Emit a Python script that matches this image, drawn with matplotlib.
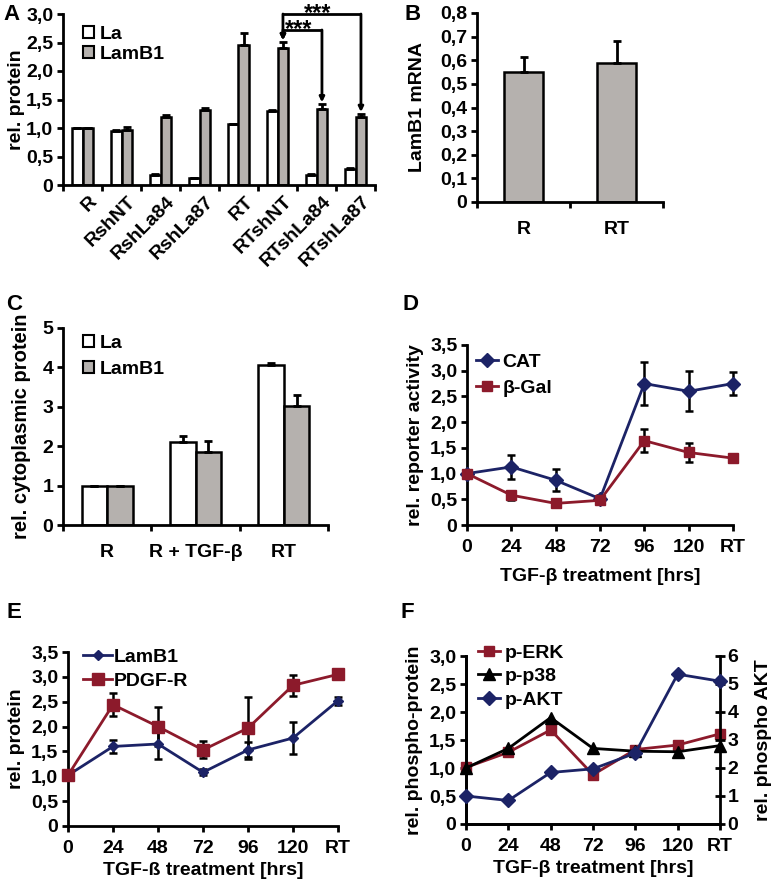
import matplotlib.pyplot as plt
import numpy as np
from matplotlib.patches import Patch
from matplotlib.transforms import ScaledTranslation

plt.rcParams['font.family'] = ['Liberation Sans', 'DejaVu Sans']
plt.rcParams['font.weight'] = 'bold'
plt.rcParams['axes.labelweight'] = 'bold'
plt.rcParams['font.size'] = 14
plt.rcParams['axes.linewidth'] = 2
plt.rcParams['xtick.major.width'] = 2
plt.rcParams['ytick.major.width'] = 2
plt.rcParams['xtick.major.size'] = 4
plt.rcParams['ytick.major.size'] = 4

# --- datos ---
# A
a_grupos = ['R', 'RshNT', 'RshLa84', 'RshLa87', 'RT', 'RTshNT', 'RTshLa84', 'RTshLa87']
a_la = [1.0, 0.95, 0.18, 0.12, 1.07, 1.29, 0.18, 0.28]
a_la_err = [0, 0.02, 0.01, 0.01, 0, 0.03, 0.01, 0.01]
a_lamb1 = [1.0, 0.96, 1.19, 1.31, 2.46, 2.41, 1.34, 1.19]
a_lamb1_err = [0, 0.05, 0.03, 0.04, 0.2, 0.1, 0.08, 0.06]
a_comparaciones = [(5, 6, 2.72), (5, 7, 3.0)]

# B
b_grupos = ['R', 'RT']
b_lamb1 = [0.55, 0.59]
b_err = [0.065, 0.09]

# C
c_grupos = ['R', 'R + TGF-β', 'RT']
c_la = [1.0, 2.1, 4.05]
c_la_err = [0, 0.17, 0.05]
c_lamb1 = [1.0, 1.85, 3.03]
c_lamb1_err = [0, 0.28, 0.27]

# D, E, F
tiempos = ['0', '24', '48', '72', '96', '120', 'RT']
d_cat = [1.0, 1.13, 0.87, 0.51, 2.75, 2.6, 2.75]
d_cat_err = [0, 0.23, 0.21, 0.08, 0.41, 0.39, 0.23]
d_gal = [1.0, 0.58, 0.42, 0.48, 1.64, 1.41, 1.3]
d_gal_err = [0, 0.09, 0.06, 0.07, 0.23, 0.18, 0]

e_lamb1 = [1.02, 1.6, 1.65, 1.08, 1.53, 1.77, 2.52]
e_lamb1_err = [0, 0.13, 0.3, 0.06, 0.15, 0.32, 0.08]
e_pdgf = [1.02, 2.44, 2.0, 1.53, 1.97, 2.83, 3.05]
e_pdgf_err = [0, 0.23, 0.4, 0.17, 0.62, 0.21, 0]

f_erk = [1.01, 1.28, 1.68, 0.88, 1.33, 1.41, 1.61]
f_p38 = [1.0, 1.35, 1.9, 1.35, 1.3, 1.29, 1.4]
f_akt = [1.0, 0.84, 1.84, 1.97, 2.53, 5.35, 5.1]

AZUL = '#1c2366'
ROJO = '#8c1a2b'
GRIS = '#b5b1ae'
FS = 14      # tamano de texto
FL = 14      # etiquetas de ejes

W, H = 771, 882
fig = plt.figure(figsize=(W / 100, H / 100), dpi=100)


def ejes(x0, y0, x1, y1):
    # coordenadas en pixeles (origen arriba a la izquierda)
    return fig.add_axes([x0 / W, 1 - y1 / H, (x1 - x0) / W, (y1 - y0) / H])


def coma(v, dec=1):
    if v == 0:
        return '0'
    return f'{v:.{dec}f}'.replace('.', ',')


def limpiar(ax):
    ax.spines['top'].set_visible(False)
    ax.spines['right'].set_visible(False)
    ax.tick_params(axis='both', labelsize=FS, width=2)
    ax.tick_params(axis='y', pad=3)


def letra(x, y, t):
    fig.text(x / W, 1 - y / H, t, fontsize=16, fontweight='bold', ha='left', va='center')


def ticks_grupos(ax, n, etiquetas, pad):
    ax.set_xlim(-0.5, n - 0.5)
    bordes = np.arange(-0.5, n)
    ax.set_xticks(bordes, [''] * len(bordes))
    ax.set_xticks(np.arange(n), etiquetas, minor=True)
    ax.tick_params(axis='x', which='minor', length=0, labelsize=FS, pad=pad)


def leyenda(ax, handles, labels, x, y, **kw):
    opts = dict(loc='upper left', bbox_to_anchor=(x, y), frameon=False,
                borderpad=0, borderaxespad=0, handletextpad=0.3, labelspacing=0.15,
                prop=dict(weight='bold', size=FS))
    opts.update(kw)
    return ax.legend(handles, labels, **opts)


# ---------- A ----------
ax = ejes(63, 14, 375, 185)
limpiar(ax)
x = np.arange(len(a_grupos))
w = 0.28
ax.bar(x - w / 2, a_la, w, color='white', edgecolor='black', lw=1.8,
       yerr=[np.zeros(len(x)), a_la_err], error_kw=dict(lw=2, capsize=3, capthick=2))
ax.bar(x + w / 2, a_lamb1, w, color=GRIS, edgecolor='black', lw=1.8,
       yerr=[np.zeros(len(x)), a_lamb1_err], error_kw=dict(lw=2, capsize=3, capthick=2))
ax.set_ylim(0, 3.0)
yt = np.arange(0, 3.01, 0.5)
ax.set_yticks(yt, [coma(v) for v in yt])
ticks_grupos(ax, len(x), a_grupos, 6)
for lbl in ax.get_xticklabels(minor=True):
    lbl.set_rotation(45)
    lbl.set_ha('right')
    lbl.set_va('top')
    lbl.set_rotation_mode('anchor')
    lbl.set_transform(lbl.get_transform() + ScaledTranslation(0.06, 0, fig.dpi_scale_trans))
ax.set_ylabel('rel. protein', fontsize=FL, labelpad=1)
cajas = [Patch(facecolor='white', edgecolor='black', lw=1.5),
         Patch(facecolor=GRIS, edgecolor='black', lw=1.5)]
leyenda(ax, cajas, ['La', 'LamB1'], 0.064, 0.93, handlelength=0.55, handleheight=0.55)
for i, j, h in a_comparaciones:
    xi, xj = x[i] + w / 2, x[j] + w / 2
    ti = a_lamb1[i] + a_lamb1_err[i]
    tj = a_lamb1[j] + a_lamb1_err[j]
    ax.plot([xi, xj], [h, h], color='black', lw=2, clip_on=False, solid_capstyle='butt')
    for xx, tt in [(xi, ti), (xj, tj)]:
        ax.annotate('', xy=(xx, tt + 0.03), xytext=(xx, h), annotation_clip=False,
                    arrowprops=dict(arrowstyle='-|>', lw=2, color='black',
                                    mutation_scale=7, shrinkA=0, shrinkB=0))
    ax.text((xi + xj) / 2 - 0.1, h - 0.1, '***', ha='center', va='baseline',
            fontsize=17, fontweight='bold', clip_on=False)
letra(3, 14, 'A')

# ---------- B ----------
ax = ejes(477, 13, 663, 202)
limpiar(ax)
xb = np.arange(len(b_grupos))
ax.bar(xb, b_lamb1, 0.41, color=GRIS, edgecolor='black', lw=1.8,
       yerr=[np.zeros(len(xb)), b_err], error_kw=dict(lw=2, capsize=3, capthick=2))
ax.set_ylim(0, 0.8)
yt = np.arange(0, 0.81, 0.1)
ax.set_yticks(yt, [coma(round(v, 1)) for v in yt])
ticks_grupos(ax, len(xb), b_grupos, 14)
ax.set_ylabel('LamB1 mRNA', fontsize=FL, labelpad=10)
letra(405, 15, 'B')

# ---------- C ----------
ax = ejes(63, 328, 328, 525)
limpiar(ax)
xc = np.arange(len(c_grupos))
w = 0.29
ax.bar(xc - w / 2, c_la, w, color='white', edgecolor='black', lw=1.8,
       yerr=[np.zeros(len(xc)), c_la_err], error_kw=dict(lw=2, capsize=3, capthick=2))
ax.bar(xc + w / 2, c_lamb1, w, color=GRIS, edgecolor='black', lw=1.8,
       yerr=[np.zeros(len(xc)), c_lamb1_err], error_kw=dict(lw=2, capsize=3, capthick=2))
ax.set_ylim(0, 5)
ax.set_yticks(range(6), [str(v) for v in range(6)])
ticks_grupos(ax, len(xc), c_grupos, 14)
ax.set_ylabel('rel. cytoplasmic protein', fontsize=14.5, labelpad=8)
cajas = [Patch(facecolor='white', edgecolor='black', lw=1.5),
         Patch(facecolor=GRIS, edgecolor='black', lw=1.5)]
leyenda(ax, cajas, ['La', 'LamB1'], 0.075, 0.965, handlelength=0.55, handleheight=0.55,
        labelspacing=0.45)
letra(6, 304, 'C')

# ---------- lineas ----------
ek = dict(ecolor='black', elinewidth=1.8, capsize=3, capthick=1.8)
xt = np.arange(len(tiempos))


def ejes_linea(ax, ymax, paso):
    limpiar(ax)
    ax.set_xlim(0, len(tiempos) - 1)
    ax.set_ylim(0, ymax)
    yt = np.arange(0, ymax + 0.01, paso)
    ax.set_yticks(yt, [coma(v) for v in yt])
    ax.set_xticks(xt, tiempos)
    ax.tick_params(axis='x', labelsize=FS, pad=6)


# ---------- D ----------
ax = ejes(467, 345, 733, 525)
ejes_linea(ax, 3.5, 0.5)
c1 = ax.errorbar(xt, d_cat, yerr=d_cat_err, color=AZUL, marker='D', ms=7, lw=2,
                 clip_on=False, zorder=3, **ek)
c2 = ax.errorbar(xt, d_gal, yerr=d_gal_err, color=ROJO, marker='s', ms=7, lw=2,
                 clip_on=False, zorder=3, **ek)
ax.set_ylabel('rel. reporter activity', fontsize=FL, labelpad=4)
ax.set_xlabel('TGF-β treatment [hrs]', fontsize=FL, labelpad=9)
leyenda(ax, [c1[0], c2[0]], ['CAT', 'β-Gal'], 0.034, 0.955, handlelength=1.15,
        handletextpad=0.2, labelspacing=0.45)
letra(403, 305, 'D')

# ---------- E ----------
ax = ejes(68, 652, 338, 826)
ejes_linea(ax, 3.5, 0.5)
c1 = ax.errorbar(xt, e_lamb1, yerr=e_lamb1_err, color=AZUL, marker='D', ms=5, lw=2,
                 clip_on=False, zorder=3, **ek)
c2 = ax.errorbar(xt, e_pdgf, yerr=e_pdgf_err, color=ROJO, marker='s', ms=8, lw=2,
                 clip_on=False, zorder=3, **ek)
ax.set_ylabel('rel. protein', fontsize=FL, labelpad=4)
ax.set_xlabel('TGF-ß treatment [hrs]', fontsize=FL, labelpad=4)
leyenda(ax, [c1[0], c2[0]], ['LamB1', 'PDGF-R'], 0.056, 1.02, handlelength=1.5,
        handletextpad=0.1, labelspacing=0.3)
letra(6, 613, 'E')

# ---------- F ----------
ax = ejes(466, 656, 720, 824)
ejes_linea(ax, 3.0, 0.5)
ax2 = ax.twinx()
ax2.set_ylim(0, 6)
ax2.set_yticks(range(7), [str(v) for v in range(7)])
ax2.spines['top'].set_visible(False)
ax2.tick_params(axis='y', direction='inout', length=7, width=2, labelsize=FS, pad=2)
l1, = ax.plot(xt, f_erk, color=ROJO, marker='s', ms=7, lw=2, clip_on=False, zorder=3)
l2, = ax.plot(xt, f_p38, color='black', marker='^', ms=8, lw=2, clip_on=False, zorder=3)
l3, = ax2.plot(xt, f_akt, color=AZUL, marker='D', ms=7, lw=2, clip_on=False, zorder=3)
ax.set_ylabel('rel. phospho-protein', fontsize=FL, labelpad=4)
ax2.set_ylabel('rel. phospho AKT', fontsize=FL, labelpad=12)
ax.set_xlabel('TGF-β treatment [hrs]', fontsize=FL, labelpad=4)
leyenda(ax2, [l1, l2, l3], ['p-ERK', 'p-p38', 'p-AKT'], 0.047, 1.07, handlelength=1.15,
        handletextpad=0.25, labelspacing=0.3)
letra(400, 613, 'F')

fig.savefig('out.png', dpi=100)
